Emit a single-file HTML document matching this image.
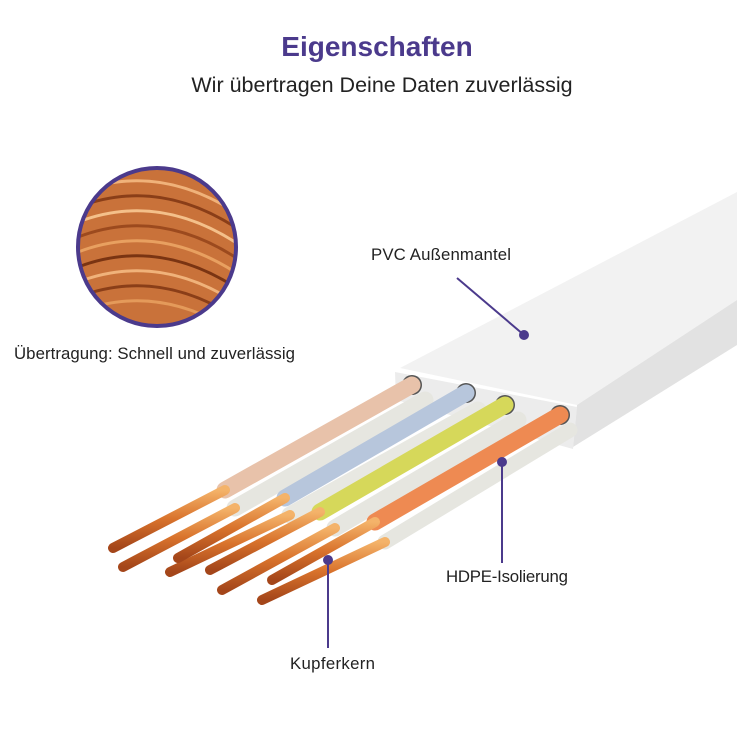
<!DOCTYPE html>
<html><head><meta charset="utf-8"><style>
body{margin:0;background:#fff;}
svg{display:block}
text{font-family:"Liberation Sans",sans-serif;}
</style></head><body>
<svg width="737" height="737" viewBox="0 0 737 737">
<defs>
<linearGradient id="cu" x1="0" y1="0" x2="0" y2="1"><stop offset="0" stop-color="#f4b36a"/><stop offset=".5" stop-color="#d9732c"/><stop offset="1" stop-color="#a4461a"/></linearGradient>
<clipPath id="cc"><circle cx="157" cy="247" r="79"/></clipPath>
</defs>
<text x="377" y="56" text-anchor="middle" font-size="28" font-weight="bold" fill="#4b3a8c">Eigenschaften</text>
<text x="382" y="92" text-anchor="middle" font-size="21.5" fill="#222">Wir übertragen Deine Daten zuverlässig</text>

<g clip-path="url(#cc)">
<rect x="70" y="160" width="180" height="180" fill="#c9723a"/>
<g stroke-width="3" fill="none">
<path d="M60 200 Q160 150 260 230" stroke="#f0b27a"/>
<path d="M60 215 Q160 165 260 245" stroke="#8a3e18"/>
<path d="M60 230 Q160 180 260 260" stroke="#f4c08a"/>
<path d="M60 245 Q160 195 260 275" stroke="#9c4a1e"/>
<path d="M60 260 Q160 210 260 290" stroke="#e8a060"/>
<path d="M60 275 Q160 225 260 305" stroke="#7a3412"/>
<path d="M60 290 Q160 240 260 320" stroke="#f0b27a"/>
<path d="M60 305 Q160 255 260 335" stroke="#8a3e18"/>
<path d="M60 320 Q160 270 260 350" stroke="#e49a5a"/>
</g>
</g>
<circle cx="157" cy="247" r="79" fill="none" stroke="#4b3a8c" stroke-width="4"/>
<text x="14" y="359" font-size="16.8" fill="#222" textLength="281">Übertragung: Schnell und zuverlässig</text>

<polygon points="400,368 737,192 737,300 577,405" fill="#f2f2f2"/>
<polygon points="577,405 737,300 737,345 573,447" fill="#e2e2e2"/>
<polygon points="395,372 577,407 573,449 396,400" fill="#ececec"/>
<g fill="#555"><circle cx="412" cy="385" r="10"/><circle cx="466" cy="393" r="10"/><circle cx="505" cy="405" r="10"/><circle cx="560" cy="415" r="10"/></g>

<g stroke-linecap="round">
<line x1="425" y1="400" x2="235" y2="508" stroke="#e6e6e0" stroke-width="17"/>
<line x1="518" y1="420" x2="335" y2="528" stroke="#e6e6e0" stroke-width="17"/>
<line x1="478" y1="410" x2="290" y2="515" stroke="#e8e8e2" stroke-width="17"/>
<line x1="570" y1="430" x2="385" y2="542" stroke="#e6e6e0" stroke-width="15"/>
<line x1="235" y1="508" x2="123" y2="567" stroke="url(#cu)" stroke-width="10"/>
<line x1="290" y1="515" x2="170" y2="572" stroke="url(#cu)" stroke-width="10"/>
<line x1="335" y1="528" x2="222" y2="590" stroke="url(#cu)" stroke-width="10"/>
<line x1="385" y1="542" x2="262" y2="600" stroke="url(#cu)" stroke-width="10"/>
<line x1="412" y1="385" x2="225" y2="490" stroke="#e8c2aa" stroke-width="17"/>
<line x1="466" y1="393" x2="285" y2="498" stroke="#b7c6dc" stroke-width="17"/>
<line x1="505" y1="405" x2="320" y2="512" stroke="#d6d85a" stroke-width="17"/>
<line x1="560" y1="415" x2="375" y2="522" stroke="#ee8a52" stroke-width="17"/>
<line x1="225" y1="490" x2="113" y2="548" stroke="url(#cu)" stroke-width="10"/>
<line x1="285" y1="498" x2="178" y2="558" stroke="url(#cu)" stroke-width="10"/>
<line x1="320" y1="512" x2="210" y2="570" stroke="url(#cu)" stroke-width="10"/>
<line x1="375" y1="522" x2="272" y2="580" stroke="url(#cu)" stroke-width="10"/>
</g>

<g stroke="#4b3a8c" stroke-width="2" fill="#4b3a8c">
<line x1="457" y1="278" x2="524" y2="335"/><circle cx="524" cy="335" r="4"/>
<line x1="502" y1="462" x2="502" y2="563"/><circle cx="502" cy="462" r="4"/>
<line x1="328" y1="560" x2="328" y2="648"/><circle cx="328" cy="560" r="4"/>
</g>
<text x="371" y="260" font-size="16.8" fill="#222" textLength="140">PVC Außenmantel</text>
<text x="446" y="582" font-size="16.8" fill="#222" textLength="122">HDPE-Isolierung</text>
<text x="290" y="669" font-size="16.8" fill="#222" textLength="85">Kupferkern</text>
</svg>
</body></html>
